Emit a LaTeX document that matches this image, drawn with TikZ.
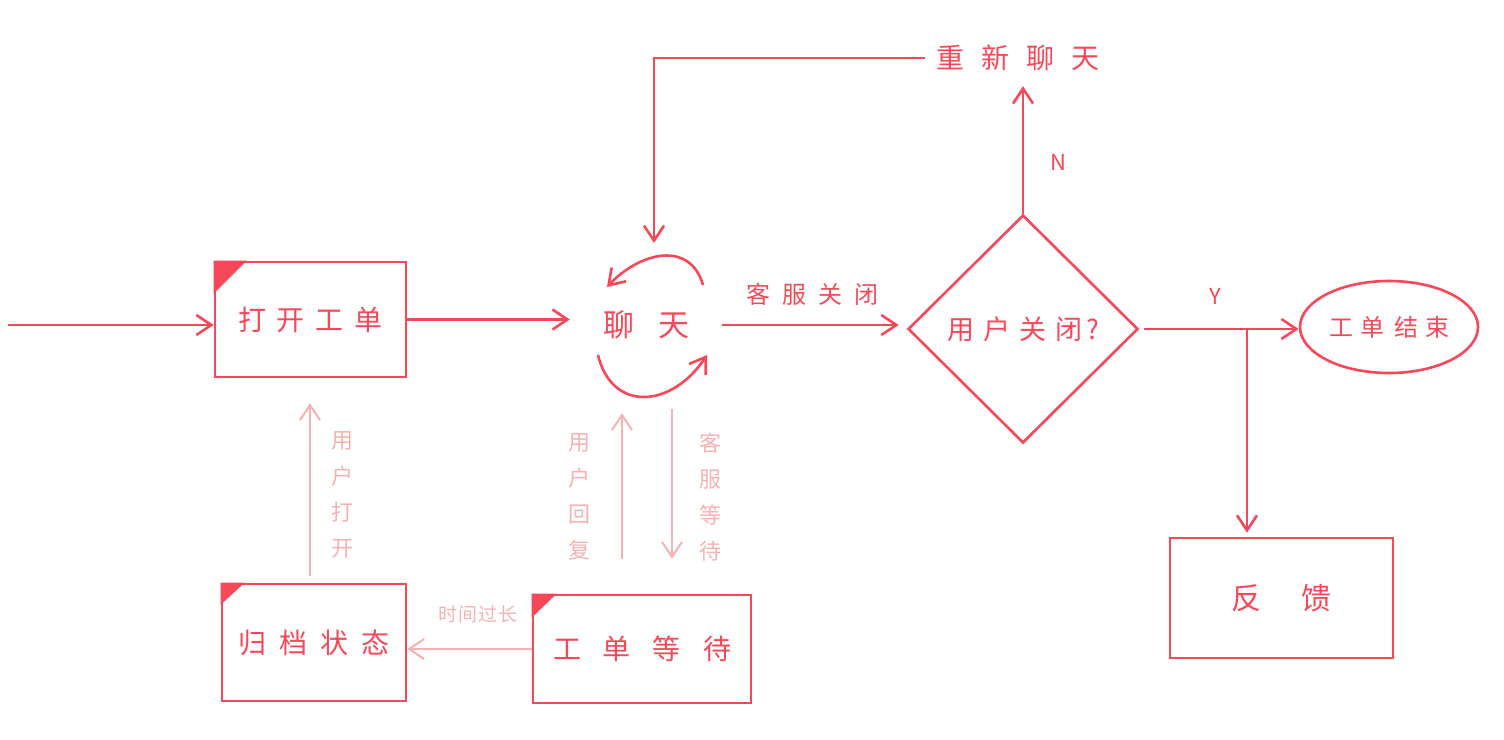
\documentclass[tikz,border=0pt]{standalone}
\usepackage{fontspec}
\newfontfamily\cjk{Noto Sans CJK SC}
\usetikzlibrary{arrows.meta,shapes.geometric}
\definecolor{mainred}{RGB}{246,72,88}
\definecolor{lightred}{RGB}{245,178,178}
\newcommand{\gp}[1]{\hspace{#1pt}}
\begin{document}
\begin{tikzpicture}[x=1pt,y=-1pt,
  mline/.style={draw=mainred,line width=2.6pt,-{Straight Barb[length=15pt,width=20pt]}},
  lline/.style={draw=lightred,line width=2pt,-{Straight Barb[length=15pt,width=20pt]}},
  box/.style={draw=mainred,line width=2.6pt,inner sep=0pt,text=mainred,font=\cjk\fontsize{28}{30}\selectfont},
  txt/.style={text=mainred,inner sep=0pt},
  ltxt/.style={text=lightred,inner sep=0pt,align=center,font=\cjk\fontsize{22}{36}\selectfont},
  fs/.style={font=\cjk\fontsize{#1}{#1}\selectfont}]
\useasboundingbox (0,0) rectangle (1504,739);

% boxes
\node[box,minimum width=191,minimum height=115] (open) at (310.5,319.5) {打\gp{11}开\gp{11}工\gp{11}单};
\node[box,minimum width=184,minimum height=117] (arch) at (314,642.5) {归\gp{13}档\gp{13}状\gp{13}态};
\node[box,minimum width=218,minimum height=108] (wait) at (642,649) {工\gp{22}单\gp{22}等\gp{22}待};
\node[box,minimum width=223,minimum height=120] (fb) at (1281.5,598) {\fontsize{30}{32}\selectfont 反\gp{40}馈};
\fill[mainred] (open.north west) -- ++(33,0) -- ++(-33,33) -- cycle;
\fill[mainred] (arch.north west) -- ++(24,0) -- ++(-24,22) -- cycle;
\fill[mainred] (wait.north west) -- ++(25,0) -- ++(-25,24) -- cycle;

% chat
\node[txt,fs=31,minimum width=152,minimum height=80] (chat) at (646,325) {聊\gp{24}天};
\draw[mline] (703,285) .. controls (690,240) and (640,252) .. (607,287);
\draw[mline] (598,355) .. controls (612,413) and (672,408) .. (707,355);

% decision
\node[draw=mainred,line width=2.6pt,diamond,minimum width=230,minimum height=228,inner sep=0pt] (dec) at (1023,329) {};
\node[txt,fs=27] (dect) at (1023,329) {用\gp{9}户\gp{9}关\gp{9}闭\gp{4}?};
\node[txt,fs=28,minimum width=186,minimum height=56] (restart) at (1018,58) {重\gp{17}新\gp{17}聊\gp{17}天};
\node[draw=mainred,line width=2.6pt,ellipse,minimum width=178,minimum height=92,inner sep=0pt,text=mainred,fs=24] (endn) at (1389,327) {工\gp{7}单\gp{10}结\gp{7}束};

% labels
\node[txt,fs=24] (lclose) at (812,294) {客\gp{12}服\gp{12}关\gp{12}闭};
\node[txt,fs=22] (nlab) at (1058,162) {N};
\node[txt,fs=22] (ylab) at (1215,296) {Y};
\node[ltxt,fs=19] (ltime) at (478,614) {时\gp{1}间\gp{1}过\gp{1}长};
\node[ltxt] (lopen) at (342,495) {用\\户\\打\\开};
\node[ltxt] (lreply) at (579,497) {用\\户\\回\\复};
\node[ltxt] (lwait) at (710,497) {客\\服\\等\\待};

% main connectors
\coordinate (start) at (8,325);
\draw[mline] (start) -- (start -| open.west);
\draw[mline] (open.east) -- (open.east -| chat.west);
\draw[mline,shorten >=8pt] (chat.east) -- (chat.east -| dec.west);
\draw[mline] (dec.north) -- (dec.north |- restart.south);
\coordinate (loopend) at (654,243);
\draw[mline] (restart.west) -| (loopend);
\draw[mline,shorten <=5pt] (dec.east) -- (dec.east -| endn.west);
\coordinate (br) at (1247,329);
\draw[mline,shorten >=4pt] (br) -- (br |- fb.north);

% light connectors
\draw[lline] (wait.west) -- (wait.west -| arch.east);
\draw[lline,shorten <=7pt,shorten >=25pt] ([xshift=-4pt]arch.north) -- ([xshift=-4pt]arch.north |- open.south);
\draw[lline,shorten <=35pt,shorten >=48pt] ([xshift=-20pt]wait.north) -- ([xshift=-20pt]wait.north |- chat.south);
\draw[lline,shorten <=44pt,shorten >=35pt] ([xshift=30pt]wait.north |- chat.south) -- ([xshift=30pt]wait.north);
\end{tikzpicture}
\end{document}
